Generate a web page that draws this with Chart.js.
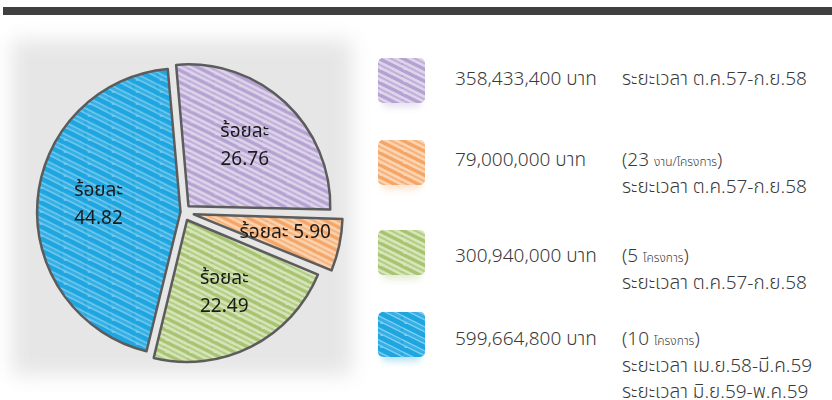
<!DOCTYPE html>
<html>
<head>
<meta charset="utf-8">
<script src="https://cdn.jsdelivr.net/npm/chart.js@4"></script>
<style>
  html, body { margin: 0; padding: 0; background: #fff; }
  body { width: 832px; height: 400px; position: relative; overflow: hidden;
         font-family: "Noto Sans Thai", "Noto Sans", Roboto, sans-serif; color: #3a3a3a; }
  #topbar { position: absolute; left: 3px; top: 7px; width: 829px; height: 8px; background: #404040; }
  #shade { position: absolute; left: 12px; top: 40px; width: 340px; height: 335px;
           background: #e6e6e6; filter: blur(10px); }
  #pieBox { position: absolute; left: 16px; top: 45px; width: 334px; height: 334px; }
  .sw { position: absolute; left: 378px; width: 47px; height: 45px; border-radius: 5px; }
  .amt { position: absolute; left: 455px; font-size: 19px; line-height: 26px; white-space: nowrap; font-weight: 300; }
  .note { position: absolute; left: 622px; font-size: 19px; line-height: 26px; white-space: nowrap; font-weight: 300; }
  .note small { font-size: 12px; }
</style>
</head>
<body>
<div id="topbar"></div>
<div id="shade"></div>
<div id="pieBox"><canvas id="pieChart"></canvas></div>
<div id="legend"></div>
<script>
// ข้อมูลของแผนภูมิ
const percents = [26.76, 5.90, 22.49, 44.82];
const amounts = ['358,433,400', '79,000,000', '300,940,000', '599,664,800'];
const projectCounts = [null, '23', '5', '10'];
const projectUnits = [null, 'งาน/โครงการ', 'โครงการ', 'โครงการ'];
const periods = [
    ['ระยะเวลา ต.ค.57-ก.ย.58'],
    ['ระยะเวลา ต.ค.57-ก.ย.58'],
    ['ระยะเวลา ต.ค.57-ก.ย.58'],
    ['ระยะเวลา เม.ย.58-มี.ค.59', 'ระยะเวลา มิ.ย.59-พ.ค.59']
];
const labelPrefix = 'ร้อยละ';

// สี (พื้น, เส้นขีด)
const baseColors = ['#ded5eb', '#fbd5b3', '#d6e5ba', '#7fcdf0'];
const strokeColors = ['#b4a2d3', '#f5a566', '#a8c471', '#1ea6e0'];

// ตำแหน่งของคำอธิบาย
const swatchTop = [58, 140, 230, 312];
const lineTop = [67, 148, 244, 327];

function makeHatch(base, stroke, heavy) {
    const c = document.createElement('canvas');
    c.width = 24; c.height = 12;
    const g = c.getContext('2d');
    g.fillStyle = base;
    g.fillRect(0, 0, 24, 12);
    g.strokeStyle = stroke;
    g.lineCap = 'round';
    [[0, heavy ? 5 : 3.4, 1], [6, heavy ? 3 : 2, 0.75]].forEach(function(s) {
        g.lineWidth = s[1];
        g.globalAlpha = s[2];
        for (let dx = -24; dx <= 24; dx += 24) {
            g.beginPath();
            g.moveTo(dx, s[0] - 12);
            g.lineTo(dx + 24, s[0]);
            g.moveTo(dx, s[0]);
            g.lineTo(dx + 24, s[0] + 12);
            g.stroke();
        }
    });
    return c;
}

const hatchCanvases = baseColors.map((b, i) => makeHatch(b, strokeColors[i], i === 3));
const ctx = document.getElementById('pieChart').getContext('2d');
const patterns = hatchCanvases.map(c => ctx.createPattern(c, 'repeat'));

// ป้ายร้อยละบนชิ้น
const sliceLabels = {
    id: 'sliceLabels',
    afterDatasetsDraw(chart) {
        const g = chart.ctx;
        const meta = chart.getDatasetMeta(0);
        g.save();
        g.fillStyle = '#1a1a1a';
        g.font = '19px "Noto Sans Thai", "Noto Sans", sans-serif';
        g.textAlign = 'center';
        g.textBaseline = 'middle';
        meta.data.forEach(function(arc, i) {
            const p = arc.getProps(['x', 'y', 'startAngle', 'endAngle', 'outerRadius']);
            const mid = (p.startAngle + p.endAngle) / 2;
            const small = percents[i] < 10;
            // arc offset is drawn at a quarter of its value
            const shift = (arc.options.offset || 0) / 4;
            const r = p.outerRadius * (small ? 0.66 : 0.58) + shift;
            const x = p.x + Math.cos(mid) * r;
            const y = p.y + Math.sin(mid) * r;
            const num = percents[i].toFixed(2);
            if (small) {
                g.fillText(labelPrefix + ' ' + num, x, y);
            } else {
                g.fillText(labelPrefix, x, y - 13);
                g.fillText(num, x, y + 15);
            }
        });
        g.restore();
    }
};

new Chart(ctx, {
    type: 'pie',
    data: {
        labels: amounts,
        datasets: [{
            data: percents,
            backgroundColor: patterns,
            borderColor: '#5c5c5c',
            borderWidth: 2.5,
            offset: [32, 44, 36, 10],
            borderJoinStyle: 'round'
        }]
    },
    options: {
        responsive: true,
        maintainAspectRatio: false,
        animation: false,
        rotation: -5,
        layout: { padding: 2 },
        plugins: { legend: { display: false }, tooltip: { enabled: false } }
    },
    plugins: [sliceLabels]
});

// คำอธิบายด้านขวา
const legend = document.getElementById('legend');
amounts.forEach(function(amt, i) {
    const sw = document.createElement('div');
    sw.className = 'sw';
    sw.style.top = swatchTop[i] + 'px';
    sw.style.backgroundImage = 'url(' + hatchCanvases[i].toDataURL() + ')';
    sw.style.boxShadow = '0 9px 7px -5px ' + strokeColors[i] + '55';
    legend.appendChild(sw);

    const a = document.createElement('div');
    a.className = 'amt';
    a.style.top = lineTop[i] + 'px';
    a.textContent = amt + ' บาท';
    legend.appendChild(a);

    const n = document.createElement('div');
    n.className = 'note';
    n.style.top = lineTop[i] + 'px';
    let html = '';
    if (projectCounts[i]) {
        html += '(' + projectCounts[i] + ' <small>' + projectUnits[i] + '</small>)<br>';
    }
    html += periods[i].join('<br>');
    n.innerHTML = html;
    legend.appendChild(n);
});
</script>
</body>
</html>
